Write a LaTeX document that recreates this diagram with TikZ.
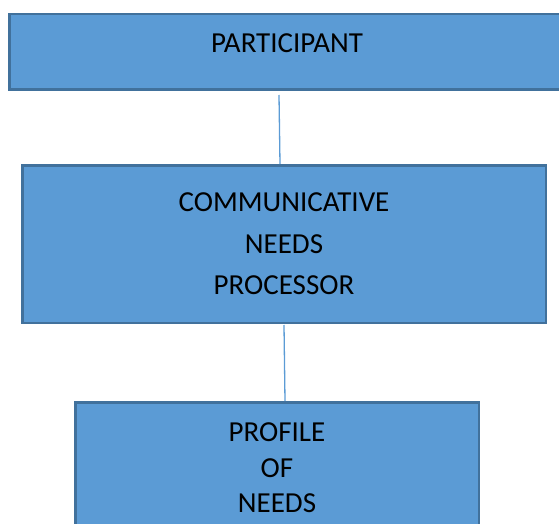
\documentclass[tikz,border=0pt]{standalone}
\usepackage{fontspec}
\setmainfont{Carlito}
\definecolor{boxfill}{HTML}{5B9BD5}
\definecolor{boxline}{HTML}{41719C}
\begin{document}
\begin{tikzpicture}[x=1pt,y=-1pt,
		font=\fontsize{29}{41.5}\selectfont,
		stagebox/.style={draw=boxline,fill=boxfill,line width=2.5pt,inner sep=0pt,align=center},
		link/.style={draw=boxfill,line width=1.3pt}]
		\useasboundingbox (0,0) rectangle (559,524);
		\clip (0,0) rectangle (559,524);
		
		\node[stagebox,minimum width=555.5pt,minimum height=75.5pt,
		text height=19pt,text depth=17pt] (part) at (287,52) {PARTICIPANT};
		
		\node[stagebox,minimum width=523.5pt,minimum height=157.5pt] (cnp) at (284,244)
		{COMMUNICATIVE\\NEEDS\\PROCESSOR};
		
		\node[stagebox,minimum width=403.5pt,minimum height=131.5pt,
		font=\fontsize{29}{35.5}\selectfont] (profile) at (277,468)
		{PROFILE\\OF\\NEEDS};
		
		\draw[link] ([xshift=-8pt,yshift=-4pt]part.south) -- ([xshift=-4pt]cnp.north);
		\draw[link] ([yshift=-1pt]cnp.south) -- ([xshift=8pt]profile.north);
	\end{tikzpicture}
\end{document}
